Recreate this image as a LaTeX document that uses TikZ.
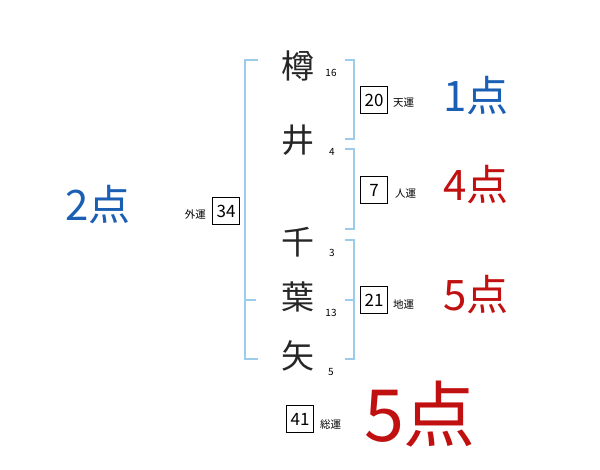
\documentclass[tikz,border=0pt]{standalone}
\usepackage{fontspec}
\setmainfont{Noto Sans CJK JP}
\newfontfamily\jp{Noto Sans CJK JP}
\definecolor{brk}{HTML}{9DCBEA}
\definecolor{pblue}{HTML}{1A5FB4}
\definecolor{pred}{HTML}{C01010}
\begin{document}
\begin{tikzpicture}[x=1pt,y=-1pt,
  kanji/.style={font=\jp\fontsize{33}{33}\selectfont, inner sep=0pt, text=black!85},
  stroke/.style={font=\jp\fontsize{10}{10}\selectfont, inner sep=0pt},
  numbox/.style={draw, line width=0.8pt, minimum width=27pt, minimum height=27pt, inner sep=0pt, font=\jp\fontsize{17}{17}\selectfont},
  unlabel/.style={font=\jp\fontsize{10.5}{10.5}\selectfont, inner sep=0pt},
  score/.style={font=\jp\fontsize{42}{42}\selectfont, inner sep=0pt},
  bigscore/.style={font=\jp\fontsize{72}{72}\selectfont, inner sep=0pt},
  br/.style={draw=brk, line width=1.4pt}]
\useasboundingbox (0,0) rectangle (600,470);
% kanji
\node[kanji] (k1) at (298,66) {樽};
\node[kanji] (k2) at (298,140) {井};
\node[kanji] (k3) at (298,242) {千};
\node[kanji] (k4) at (298,297) {葉};
\node[kanji] (k5) at (298,356) {矢};
\node[stroke] (s1) at (331,73) {16};
\node[stroke] (s2) at (332,152) {4};
\node[stroke] (s3) at (332,253) {3};
\node[stroke] (s4) at (331,313) {13};
\node[stroke] (s5) at (331,372) {5};
% brackets
\draw[br] (258,60) -- (245,60) -- (245,359) -- (258,359);
\draw[br] (245,300) -- (256,300);
\draw[br] (345,60) -- (354,60) -- (354,139) -- (345,139);
\draw[br] (345,149) -- (354,149) -- (354,229) -- (345,229);
\draw[br] (345,240) -- (354,240) -- (354,359) -- (345,359);
\draw[br] (345,300) -- (354,300);
% boxes
\node[numbox] (b1) at (374,100) {20};
\node[unlabel, anchor=west] (l1) at (393,103) {天運};
\node[numbox] (b2) at (374,190) {7};
\node[unlabel, anchor=west] (l2) at (395,194) {人運};
\node[numbox] (b3) at (374,300) {21};
\node[unlabel, anchor=west] (l3) at (393,304) {地運};
\node[numbox] (b4) at (300,419) {41};
\node[unlabel, anchor=west] (l4) at (320,424) {総運};
\node[numbox] (b5) at (226,211) {34};
\node[unlabel, anchor=east] (l5) at (206,214) {外運};
% scores
\node[score, text=pblue] (p1) at (476,96) {1点};
\node[score, text=pred] (p2) at (476,185) {4点};
\node[score, text=pred] (p3) at (476,295) {5点};
\node[score, text=pblue] (p4) at (98,205) {2点};
\node[bigscore, text=pred] (p5) at (420,414) {5点};
\end{tikzpicture}
\end{document}
